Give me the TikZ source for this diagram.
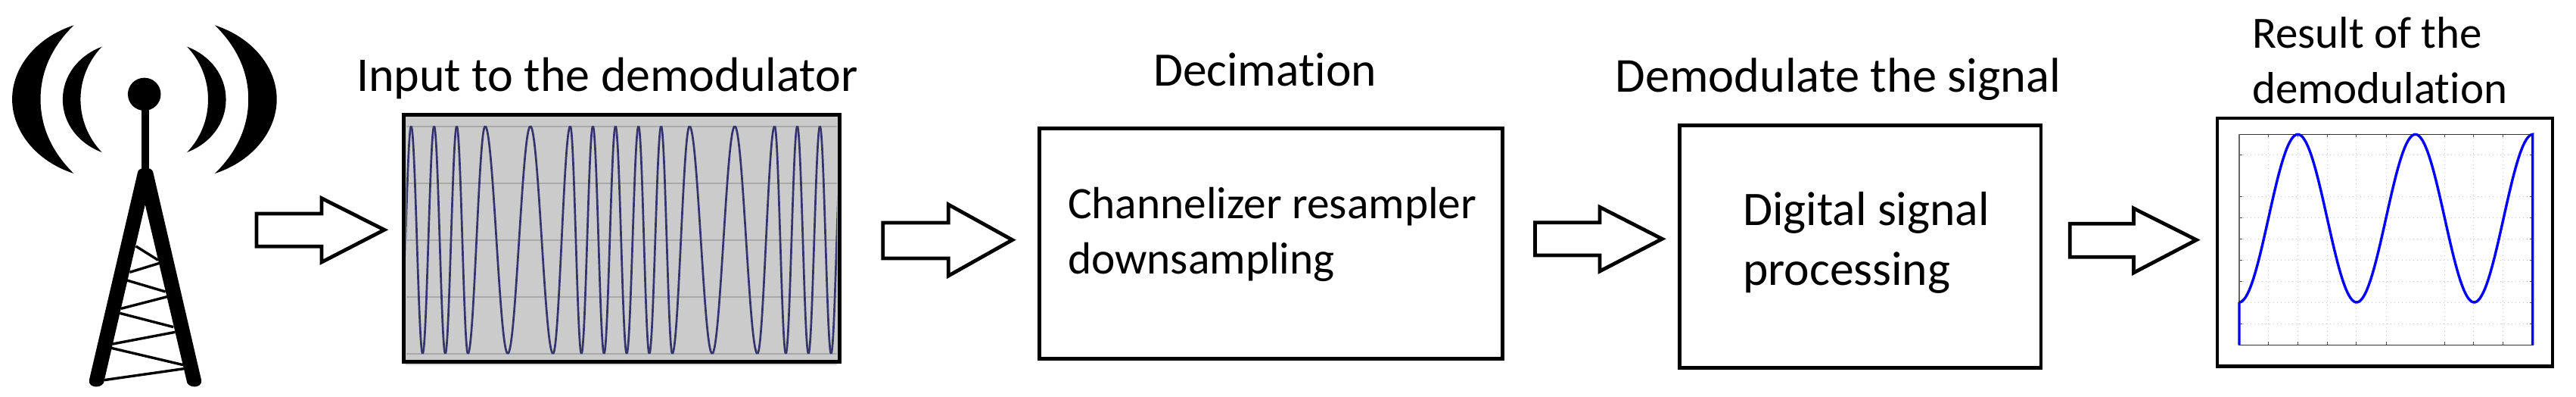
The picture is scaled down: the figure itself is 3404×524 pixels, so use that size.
\documentclass[tikz,border=0pt]{standalone}
\usepackage{fontspec}
\setmainfont{Carlito}[Ligatures=NoCommon]
\definecolor{wavecol}{RGB}{53,53,110}
\definecolor{gridcol}{RGB}{169,169,169}
\definecolor{plotbg}{RGB}{203,203,203}
\definecolor{plotgridcol}{RGB}{200,200,200}
\tikzset{
  x=0.5pt,y=-0.5pt,
  lbl/.style={anchor=base west,inner sep=0pt,outer sep=0pt,font=\fontsize{#1}{#1}\selectfont},
  blockbox/.style={draw=black,line width=2.4pt,fill=white,inner sep=0pt,outer sep=0pt},
  blockarrow/.style={draw=black,line width=2.4pt,fill=white,miter limit=10},
  wave/.style={draw=wavecol,line width=1.35pt},
  gridmajor/.style={draw=gridcol,line width=1pt},
  plotgrid/.style={draw=plotgridcol,line width=0.5pt,dotted},
  thinbar/.style={draw=black,line width=1.7pt}
}
\begin{document}
\begin{tikzpicture}
\useasboundingbox (0,0) rectangle (3404,524);
% ---- tower (zoom 1 coordinates)
\begin{scope}[x=0.17857pt,y=-0.16667pt]
 \fill (273,100) .. controls (130,150) and (45,270) .. (45,393) .. controls (45,516) and (130,637) .. (273,687) .. controls (190,600) and (150,500) .. (150,393) .. controls (150,286) and (190,187) .. (273,100) -- cycle;
 \fill (377,185) .. controls (290,220) and (232,300) .. (232,394) .. controls (232,488) and (290,568) .. (377,603) .. controls (325,545) and (298,470) .. (298,394) .. controls (298,318) and (325,243) .. (377,185) -- cycle;
 \fill (795,100) .. controls (938,150) and (1024,270) .. (1024,393) .. controls (1024,516) and (938,637) .. (795,687) .. controls (878,600) and (919,500) .. (919,393) .. controls (919,286) and (878,187) .. (795,100) -- cycle;
 \fill (692,185) .. controls (779,220) and (836,300) .. (836,394) .. controls (836,488) and (779,568) .. (692,603) .. controls (744,545) and (770,470) .. (770,394) .. controls (770,318) and (744,243) .. (692,185) -- cycle;
 \fill (534,373) ellipse [x radius=61,y radius=65];
 \fill (524,430) rectangle (552,670);
 \fill (510,680) .. controls (515,660) and (561,660) .. (566,680) -- (745,1505) .. controls (750,1540) and (690,1540) .. (690,1505) -- (537,810) -- (386,1505) .. controls (386,1540) and (325,1540) .. (330,1505) -- cycle;
 \draw[thinbar] (503,975) -- (585,1030);
 \draw[thinbar] (480,1078) -- (590,1042);
 \draw[thinbar] (470,1110) -- (612,1155);
 \draw[thinbar] (448,1222) -- (618,1175);
 \draw[thinbar] (443,1240) -- (642,1295);
 \draw[thinbar] (417,1362) -- (648,1315);
 \draw[thinbar] (412,1378) -- (678,1445);
 \draw[thinbar] (385,1505) -- (680,1460);
 \draw[blockarrow] (949,846) -- (1190,846) -- (1190,785) -- (1422,910) -- (1190,1038) -- (1190,976) -- (949,976) -- cycle;
\end{scope}
% ---- input plot (zoom 2 coordinates)
\node[lbl=32] (inlbl) at (471,120) {Input to the demodulator};
\begin{scope}[shift={(500,100)},x=0.22321pt,y=-0.16667pt]
 \fill[gray!30] (80,1120) rectangle (1358,1146);
 \fill[plotbg] (75,155) rectangle (1365,1132);
 \foreach \yy in {200,425,650,875,1100}
   \draw[gridmajor] (82,\yy) -- (1358,\yy);
 \begin{scope}
  \clip (82,160) rectangle (1358,1125);
  \foreach \xa/\xb [count=\i] in {63.5/97,97/131,131/165,165/198,198/232,232/265,265/316,316/383,383/450,450/517,517/568,568/601,601/635,635/668,668/702,702/735,735/770,770/802,802/837,837/870,870/921,921/988,988/1055,1055/1122,1122/1173,1173/1206,1206/1240,1240/1273,1273/1307,1307/1340,1340/1373.5}{
    \pgfmathsetmacro\ya{isodd(\i)?1100:200}
    \pgfmathsetmacro\yb{isodd(\i)?200:1100}
    \pgfmathsetmacro\xc{\xa+0.3642*(\xb-\xa)}
    \pgfmathsetmacro\xd{\xb-0.3642*(\xb-\xa)}
    \draw[wave] (\xa,\ya) .. controls (\xc,\ya) and (\xd,\yb) .. (\xb,\yb);
  }
 \end{scope}
 \draw[black,line width=2.5pt] (75,155) rectangle (1365,1132);
\end{scope}
% ---- decimation (zoom 4 coordinates)
\node[lbl=31.7] (declbl) at (1524,113) {Decimation};
\begin{scope}[shift={(1150,50)},x=0.28704pt,y=-0.16667pt]
 \draw[blockarrow] (29,732) -- (180,732) -- (180,660) -- (327,800) -- (180,942) -- (180,873) -- (29,873) -- cycle;
 \node[blockbox,minimum width=305.7pt,minimum height=152pt] (dec) at (922.5,814) {};
\end{scope}
\node[lbl=29.7] (dec1) at (1411,288) {Channelizer resampler};
\node[lbl=29.7] (dec2) at (1411,361) {downsampling};
% ---- DSP (zoom 5 coordinates)
\node[lbl=32.2] (dsplbl) at (2134.5,121.7) {Demodulate the signal};
\begin{scope}[shift={(2000,50)},x=0.30303pt,y=-0.16667pt]
 \draw[blockarrow] (47,731) -- (188,731) -- (188,670) -- (324,796) -- (188,924) -- (188,861) -- (47,861) -- cycle;
 \node[blockbox,minimum width=238.8pt,minimum height=160pt] (dsp) at (756,826) {};
 \draw[blockarrow] (1213,736) -- (1352,736) -- (1352,675) -- (1489,800) -- (1352,930) -- (1352,868) -- (1213,868) -- cycle;
\end{scope}
\node[lbl=31.8] (dsp1) at (2303,297) {Digital signal};
\node[lbl=31.8] (dsp2) at (2303,376) {processing};
% ---- result (zoom 3 coordinates)
\node[lbl=29.5] (res1) at (2976,64) {Result of the};
\node[lbl=29.5] (res2) at (2976,136) {demodulation};
\begin{scope}[shift={(2900,0)},x=0.16667pt,y=-0.16667pt]
 \foreach \xx in {293,409,527,641,760,992,1106,1222}{
   \draw[plotgrid] (\xx,532) -- (\xx,1366);
   \draw[black!70,line width=0.5pt] (\xx,532) -- (\xx,544);
   \draw[black!70,line width=0.5pt] (\xx,1366) -- (\xx,1354);
 }
 \foreach \yy in {614,779,863,947,1030,1114,1198,1282}{
   \draw[plotgrid] (176,\yy) -- (1341,\yy);
   \draw[black!70,line width=0.5pt] (176,\yy) -- (188,\yy);
   \draw[black!70,line width=0.5pt] (1341,\yy) -- (1329,\yy);
 }
 \draw[black!80,line width=0.6pt] (176,532) rectangle (1341,1366);
 \draw[black!60,line width=1pt] (177,532) -- (177,1197);
 \draw[blue,line width=1.7pt] (177,1366) -- (177,1197) -- plot[domain=176:1340,samples=180] (\x,{864.5-332.5*cos((\x-409)*0.7725)}) -- (1340,1366);
 \draw[black,line width=2.2pt] (90,468) rectangle (1418,1450);
\end{scope}
\end{tikzpicture}
\end{document}
